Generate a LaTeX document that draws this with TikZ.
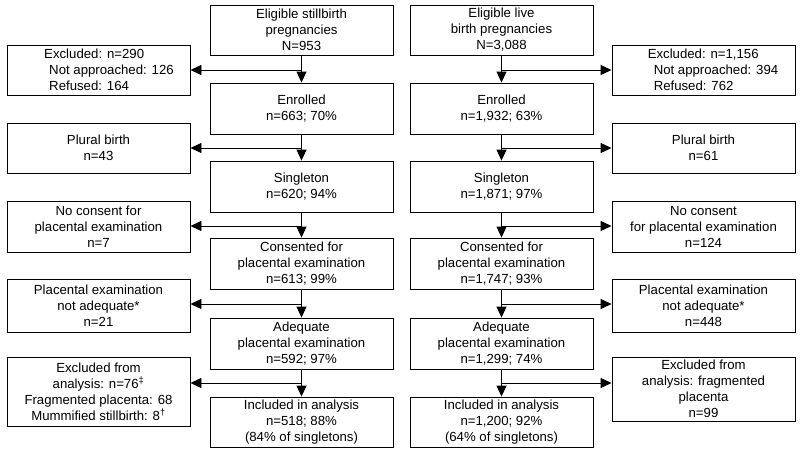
\documentclass[tikz,border=0pt]{standalone}
\usepackage{fontspec}
\setmainfont{Liberation Sans}
\usetikzlibrary{arrows.meta}
\begin{document}
\begin{tikzpicture}[x=1pt,y=-1pt,
  box/.style={draw, line width=0.9pt, minimum width=183pt, inner sep=0pt, align=center, font=\fontsize{13.2}{16}\selectfont},
  arr/.style={line width=0.9pt, -{Triangle[length=11pt,width=10pt]}}]
\useasboundingbox (0,0) rectangle (800,453);
% left center column
\node[box, minimum height=50pt] (L1) at (301.5,30) {Eligible stillbirth\\pregnancies\\N=953};
\node[box, minimum height=51pt] (L2) at (301.5,108.5) {Enrolled\\n=663; 70\%};
\node[box, minimum height=51pt] (L3) at (301.5,186.5) {Singleton\\n=620; 94\%};
\node[box, minimum height=51pt] (L4) at (301.5,263.5) {Consented for\\placental examination\\n=613; 99\%};
\node[box, minimum height=51pt] (L5) at (301.5,343.5) {Adequate\\placental examination\\n=592; 97\%};
\node[box, minimum height=50pt] (L6) at (301.5,422) {Included in analysis\\n=518; 88\%\\(84\% of singletons)};
% left side boxes
\node[box, minimum height=50pt, align=left] (LE1) at (98.5,70) {\hspace{21pt}Excluded: n=290\\\hspace{26pt}Not approached: 126\\\hspace{26pt}Refused: 164};
\node[box, minimum height=50pt] (LE2) at (98.5,148) {Plural birth\\n=43};
\node[box, minimum height=51pt] (LE3) at (98.5,226.5) {No consent for\\placental examination\\n=7};
\node[box, minimum height=53pt] (LE4) at (98.5,305.5) {Placental examination\\not adequate*\\n=21};
\node[box, minimum height=69pt] (LE5) at (98.5,391.5) {Excluded from\\analysis: n=76\textsuperscript{‡}\\Fragmented placenta: 68\\Mummified stillbirth: 8\textsuperscript{†}};
% right center column
\node[box, minimum height=50pt] (R1) at (501.5,30) {Eligible live\\birth pregnancies\\N=3,088};
\node[box, minimum height=51pt] (R2) at (501.5,108.5) {Enrolled\\n=1,932; 63\%};
\node[box, minimum height=51pt] (R3) at (501.5,186.5) {Singleton\\n=1,871; 97\%};
\node[box, minimum height=51pt] (R4) at (501.5,263.5) {Consented for\\placental examination\\n=1,747; 93\%};
\node[box, minimum height=51pt] (R5) at (501.5,343.5) {Adequate\\placental examination\\n=1,299; 74\%};
\node[box, minimum height=50pt] (R6) at (501.5,422) {Included in analysis\\n=1,200; 92\%\\(64\% of singletons)};
% right side boxes
\node[box, minimum height=50pt, align=left] (RE1) at (703.5,70) {\hspace{19pt}Excluded: n=1,156\\\hspace{25pt}Not approached: 394\\\hspace{25pt}Refused: 762};
\node[box, minimum height=50pt] (RE2) at (703.5,148) {Plural birth\\n=61};
\node[box, minimum height=51pt] (RE3) at (703.5,226.5) {No consent\\for placental examination\\n=124};
\node[box, minimum height=53pt] (RE4) at (703.5,305.5) {Placental examination\\not adequate*\\n=448};
\node[box, minimum height=64pt] (RE5) at (703.5,389) {Excluded from\\analysis: fragmented\\placenta\\n=99};
% branch points
\coordinate (LB1) at (301.5,70);
\coordinate (LB2) at (301.5,148);
\coordinate (LB3) at (301.5,226);
\coordinate (LB4) at (301.5,304);
\coordinate (LB5) at (301.5,383);
\coordinate (RB1) at (501.5,70);
\coordinate (RB2) at (501.5,148);
\coordinate (RB3) at (501.5,226);
\coordinate (RB4) at (501.5,304);
\coordinate (RB5) at (501.5,383);
% vertical arrows
\foreach \s in {L,R}{
  \draw[arr] (\s1.south) -- (\s2.north);
  \draw[arr] (\s2.south) -- (\s3.north);
  \draw[arr] (\s3.south) -- (\s4.north);
  \draw[arr] (\s4.south) -- (\s5.north);
  \draw[arr] (\s5.south) -- (\s6.north);
}
% horizontal arrows
\foreach \i in {1,...,5}{
  \draw[arr] (LB\i) -- (LB\i -| LE\i.east);
  \draw[arr] (RB\i) -- (RB\i -| RE\i.west);
}
\end{tikzpicture}
\end{document}
